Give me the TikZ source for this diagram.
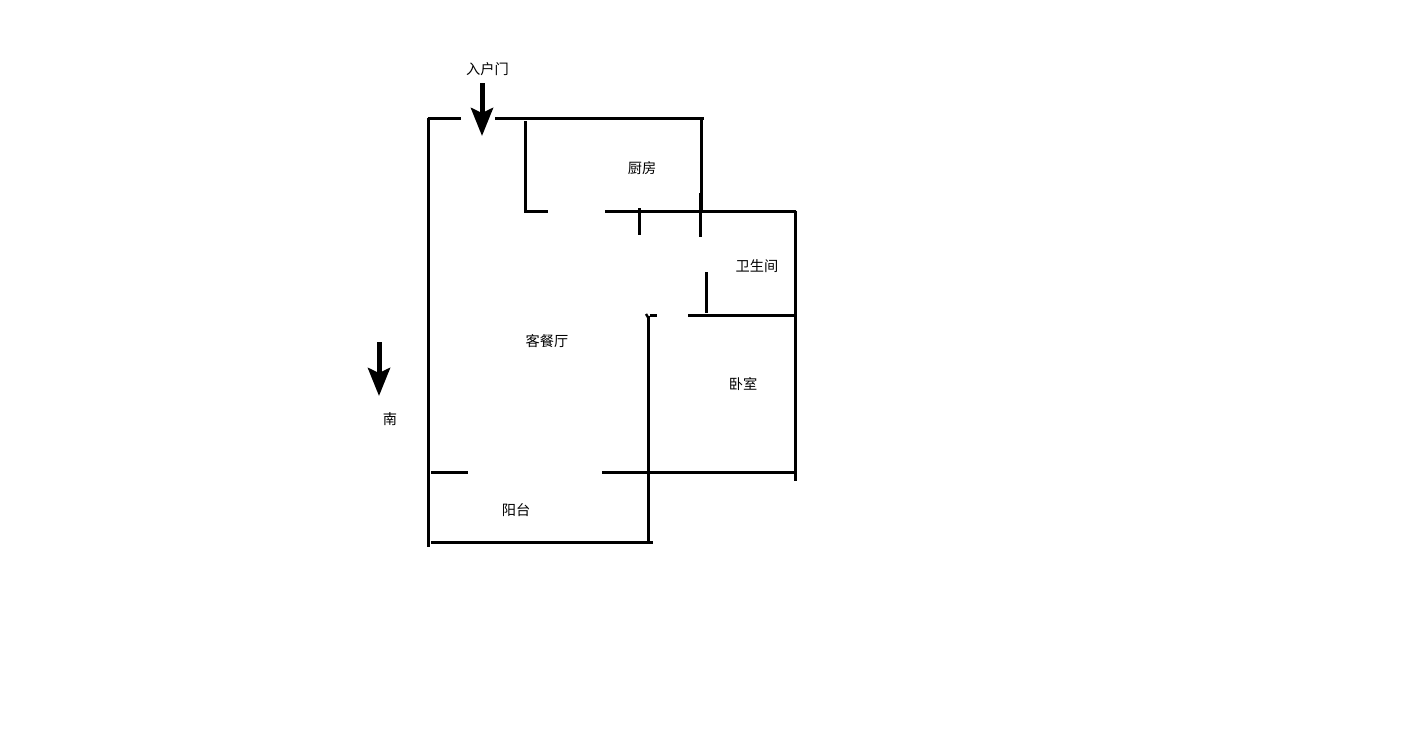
\documentclass[tikz,border=0pt]{standalone}
\usepackage{fontspec}
\setmainfont{Noto Sans CJK SC}
\usetikzlibrary{arrows.meta}

\tikzset{
  wall/.style={line width=3.4pt, black},
  tick/.style={line width=3.2pt, black},
  bigarrow/.style={line width=5pt, black, -{Stealth[length=28pt, width=22pt, inset=5pt]}},
  room/.style={font=\fontsize{14.2}{15}\selectfont, inner sep=0pt},
}

\begin{document}
\begin{tikzpicture}[x=1pt, y=-1pt]
\useasboundingbox (0, 0) rectangle (1411, 737);

\def\xleft{428.5};
\def\xkit{525.5};
\def\xhall{648.5};
\def\xkitr{701.5};
\def\xright{795.5};

\def\ytop{118.5};
\def\ykit{211.5};
\def\ybed{315.5};
\def\ybal{472.5};
\def\ybot{542.5};

% outer walls
\draw[wall] (\xleft-1, \ytop) -- (461, \ytop);
\draw[wall] (495, \ytop) -- (704, \ytop);
\draw[wall] (\xleft, \ytop-1) -- (\xleft, 547);
\draw[wall] (\xright, \ykit-1) -- (\xright, 481);
\draw[wall] (431, \ybot) -- (653, \ybot);

% kitchen
\draw[wall] (\xkit, 121) -- (\xkit, \ykit) -- (548, \ykit);
\draw[wall] (\xkitr, \ytop) -- (\xkitr, \ykit);
\draw[wall] (605, \ykit) -- (\xright, \ykit);
\draw[tick] (639.5, 208) -- (639.5, 235);
\draw[tick] (700.5, 193) -- (700.5, 237);

% bathroom and bedroom
\draw[tick] (706.5, 272) -- (706.5, 313);
\draw[wall] (688, \ybed) -- (\xright, \ybed);
\draw[wall] (\xhall, \ybed) -- (\xhall, 544);
\draw[line width=2.4pt] (646, 314) -- (649, 319);
\draw[line width=2.4pt] (650, \ybed) -- (657, \ybed);

% balcony
\draw[wall] (431, \ybal) -- (468, \ybal);
\draw[wall] (602, \ybal) -- (\xright, \ybal);

% arrows
\coordinate (doorfrom) at (482, 83);
\coordinate (doorto) at (482, 136);
\coordinate (southfrom) at (379, 342);
\coordinate (southto) at (379, 396);
\draw[bigarrow] (doorfrom) -- (doorto);
\draw[bigarrow] (southfrom) -- (southto);

\node[room] (door) at (487.5, 69) {入户门};
\node[room] (kitchen) at (642, 168) {厨房};
\node[room] (bath) at (757, 266) {卫生间};
\node[room] (living) at (547, 341) {客餐厅};
\node[room] (bed) at (743, 384) {卧室};
\node[room] (south) at (390, 419) {南};
\node[room] (balcony) at (516, 510) {阳台};

\end{tikzpicture}
\end{document}
